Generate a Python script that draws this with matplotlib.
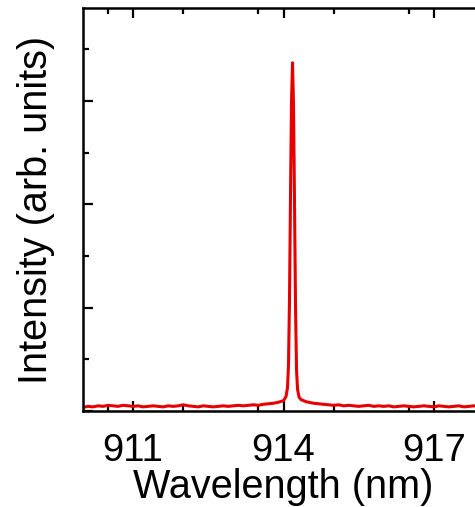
import numpy as np
import matplotlib
matplotlib.use('Agg')
import matplotlib.pyplot as plt
from matplotlib.ticker import MultipleLocator, NullFormatter

plt.rcParams['font.family'] = ['Liberation Sans', 'DejaVu Sans']

# spectrum (wavelength in nm, intensity in arb. units)
wavelength = [910.0, 910.1, 910.2, 910.3, 910.4, 910.5, 910.6, 910.7, 910.8, 910.9,
              911.0, 911.1, 911.2, 911.3, 911.4, 911.5, 911.6, 911.7, 911.8, 911.9,
              912.0, 912.1, 912.2, 912.3, 912.4, 912.5, 912.6, 912.7, 912.8, 912.9,
              913.0, 913.1, 913.2, 913.3, 913.4, 913.5, 913.6, 913.7, 913.8, 913.9,
              914.0, 914.05, 914.08, 914.10, 914.12, 914.14, 914.16, 914.18,
              914.20, 914.22, 914.24, 914.26, 914.28, 914.31, 914.35, 914.45,
              914.5, 914.6, 914.7, 914.8, 914.9,
              915.0, 915.1, 915.2, 915.3, 915.4, 915.5, 915.6, 915.7, 915.8, 915.9,
              916.0, 916.1, 916.2, 916.3, 916.4, 916.5, 916.6, 916.7, 916.8, 916.9,
              917.0, 917.1, 917.2, 917.3, 917.4, 917.5, 917.6, 917.7, 917.8, 917.9, 918.0]
intensity = [0.07, 0.09, 0.08, 0.10, 0.09, 0.11, 0.10, 0.09, 0.11, 0.10,
             0.09, 0.10, 0.08, 0.09, 0.10, 0.09, 0.08, 0.10, 0.09, 0.10,
             0.12, 0.10, 0.09, 0.08, 0.10, 0.09, 0.08, 0.09, 0.10, 0.09,
             0.10, 0.11, 0.10, 0.11, 0.12, 0.11, 0.13, 0.14, 0.15, 0.17,
             0.20, 0.28, 0.45, 0.90, 2.20, 4.20, 6.00, 6.74,
             5.90, 4.00, 2.00, 0.80, 0.42, 0.27, 0.22, 0.18,
             0.17, 0.15, 0.14, 0.13, 0.12,
             0.11, 0.12, 0.10, 0.11, 0.10, 0.09, 0.10, 0.11, 0.09, 0.10,
             0.09, 0.10, 0.08, 0.09, 0.10, 0.09, 0.08, 0.09, 0.10, 0.09,
             0.08, 0.10, 0.09, 0.08, 0.09, 0.10, 0.08, 0.09, 0.10, 0.09, 0.08]

x_ticks = [911, 914, 917]

fig = plt.figure(figsize=(4.75, 5.07), dpi=100)
ax = fig.add_axes([83/475, 1-411/507, 401/475, 403/507])

ax.plot(wavelength, intensity, color='#e60000', lw=2.2)

ax.set_xlim(910, 918)
ax.set_ylim(0, 7.8)
ax.set_xticks(x_ticks)
ax.xaxis.set_minor_locator(MultipleLocator(1.5))
ax.yaxis.set_major_locator(MultipleLocator(2))
ax.yaxis.set_minor_locator(MultipleLocator(1))
ax.yaxis.set_major_formatter(NullFormatter())

ax.tick_params(which='both', direction='in', top=True, right=False, width=1.6, labelsize=27.5, pad=16)
ax.tick_params(which='major', length=7)
ax.tick_params(which='minor', length=4)
for s in ax.spines.values():
    s.set_linewidth(1.8)

ax.set_xlabel('Wavelength (nm)', fontsize=28.5, labelpad=-1)
ax.set_ylabel('Intensity (arb. units)', fontsize=28.5, labelpad=4)

fig.savefig('out.png', dpi=100)
